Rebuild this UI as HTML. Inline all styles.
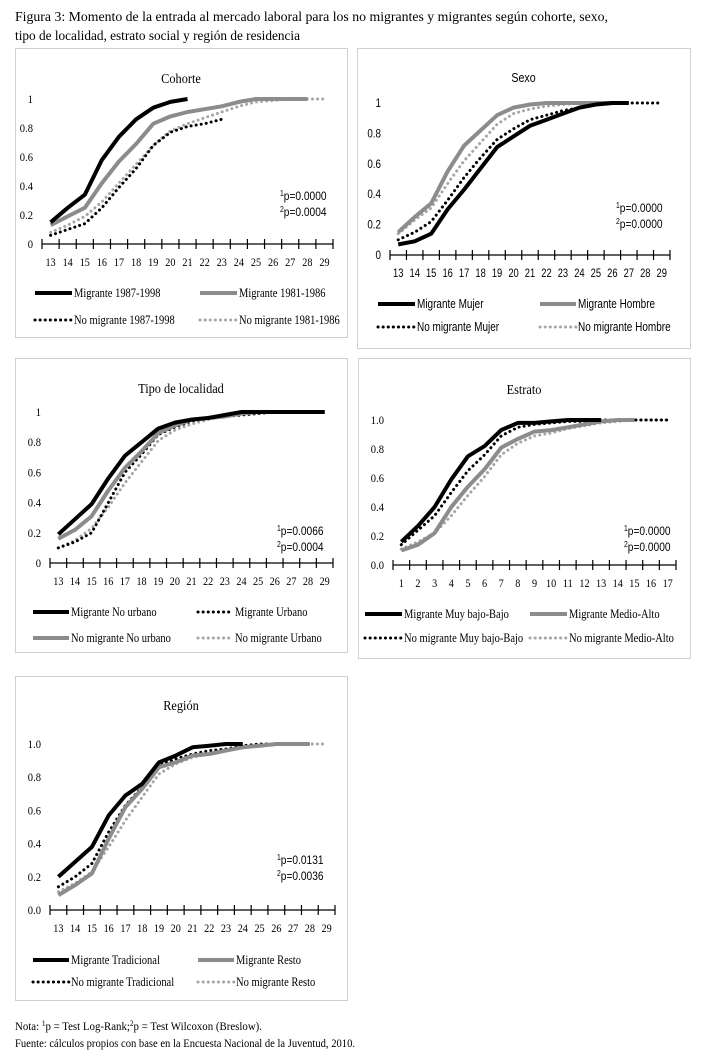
<!DOCTYPE html>
<html><head><meta charset="utf-8"><style>
html,body{margin:0;padding:0;background:#fff;}
svg{display:block;}
.serif{font-family:"Liberation Serif",serif;}
.sans{font-family:"Liberation Sans",sans-serif;}
</style></head><body>
<svg id="fig" width="703" height="1063" viewBox="0 0 703 1063" xmlns="http://www.w3.org/2000/svg">
<text class="serif" x="15" y="21" font-size="14" textLength="593" lengthAdjust="spacingAndGlyphs">Figura 3: Momento de la entrada al mercado laboral para los no migrantes y migrantes según cohorte, sexo,</text>
<text class="serif" x="15" y="40" font-size="14" textLength="285" lengthAdjust="spacingAndGlyphs">tipo de localidad, estrato social y región de residencia</text>
<text class="serif" x="15" y="1030" font-size="12" textLength="247" lengthAdjust="spacingAndGlyphs">Nota: <tspan font-size="8" dy="-4">1</tspan><tspan dy="4">p = Test Log-Rank;</tspan><tspan font-size="8" dy="-4">2</tspan><tspan dy="4">p = Test Wilcoxon (Breslow).</tspan></text>
<text class="serif" x="15" y="1047" font-size="12" textLength="340" lengthAdjust="spacingAndGlyphs">Fuente: cálculos propios con base en la Encuesta Nacional de la Juventud, 2010.</text>
</svg>
<script>
// ---- data ----
const agesCats = ["13","14","15","16","17","18","19","20","21","22","23","24","25","26","27","28","29"];
const estratoCats = ["1","2","3","4","5","6","7","8","9","10","11","12","13","14","15","16","17"];
const yTicks = [0,0.2,0.4,0.6,0.8,1];

const cohM87 = [.15,.25,.34,.58,.74,.86,.94,.98,1.0];
const cohM81 = [.13,.19,.25,.42,.57,.69,.83,.88,.91,.93,.95,.98,1.0,1.0,1.0,1.0];
const cohNM87 = [.06,.10,.14,.25,.39,.52,.68,.77,.81,.83,.86];
const cohNM81 = [.08,.13,.19,.29,.42,.55,.68,.78,.83,.87,.91,.95,.98,.99,1,1,1];

const sexMM = [.07,.09,.14,.30,.43,.57,.71,.78,.85,.89,.93,.97,.99,1.0,1.0];
const sexMH = [.15,.25,.34,.55,.72,.82,.92,.97,.99,1,1,1,1,1,1];
const sexNMM = [.10,.15,.22,.36,.51,.64,.76,.83,.89,.92,.95,.97,.99,1,1,1,1];
const sexNMH = [.14,.23,.31,.47,.62,.74,.86,.93,.96,.98,.99,1,1,1,1];

const locMNU = [.19,.29,.39,.56,.71,.80,.89,.93,.95,.96,.98,1,1,1,1,1,1];
const locMU = [.10,.14,.20,.40,.60,.72,.85,.90,.94,.96,.97,.98,.99,1,1,1,1];
const locNMNU = [.16,.22,.31,.48,.63,.74,.86,.91,.95,.96,.97,.99,1,1,1,1,1];
const locNMU = [.10,.15,.23,.37,.53,.67,.81,.88,.92,.95,.97,.98,.99,1,1,1,1];

const estMB = [.16,.27,.40,.59,.75,.82,.93,.98,.98,.99,1,1,1];
const estMA = [.10,.14,.22,.40,.54,.66,.81,.87,.92,.93,.95,.97,.99,1,1];
const estNMB = [.14,.24,.34,.50,.65,.76,.89,.95,.97,.98,.99,.99,1,1,1,1,1];
const estNMA = [.11,.16,.22,.34,.48,.61,.76,.84,.89,.91,.94,.96,.98,.99,1,1,1];

const regMT = [.20,.29,.38,.57,.69,.76,.89,.93,.98,.99,1.0,1.0];
const regMR = [.09,.15,.22,.43,.62,.73,.86,.89,.93,.94,.96,.98,.99,1,1,1];
const regNMT = [.14,.20,.28,.47,.63,.74,.87,.91,.94,.96,.97,.99,1,1,1,1];
const regNMR = [.11,.16,.23,.38,.54,.68,.82,.88,.92,.94,.96,.98,.99,1,1,1,1];

const NS="http://www.w3.org/2000/svg";
const svg=document.getElementById('fig');
function mk(tag,attrs,parent){const e=document.createElementNS(NS,tag);for(const k in attrs)e.setAttribute(k,attrs[k]);(parent||svg).appendChild(e);return e;}
// text with horizontal compression
function txt(parent,x,y,str,opts){
  const t=mk('text',{x:0,y:0,transform:`translate(${x},${y}) scale(${opts.sx||0.85},1)`,"font-size":opts.fs||12,class:opts.cls||'serif',"text-anchor":opts.anchor||'start'},parent);
  t.textContent=str;
  return t;
}
const STY={
 ms:{stroke:"#000","stroke-width":4,fill:"none","stroke-linejoin":"round"},
 gs:{stroke:"#8c8c8c","stroke-width":4,fill:"none","stroke-linejoin":"round"},
 md:{stroke:"#000","stroke-width":3,fill:"none","stroke-dasharray":"0.1,5","stroke-linecap":"round"},
 gd:{stroke:"#a6a6a6","stroke-width":3,fill:"none","stroke-dasharray":"0.1,5","stroke-linecap":"round"}
};
function chart(c){
  const g=mk('g',{});
  
  
  const box=mk('rect',{x:c.box[0]+0.5,y:c.box[1]+0.5,width:c.box[2]-c.box[0],height:c.box[3]-c.box[1],fill:"#fff",stroke:"#d0d0d0","stroke-width":1},g);
  
  
  const cls=c.sans?'sans':'serif';
  const sx=c.sans?0.82:0.88;
  const t=txt(g,(c.box[0]+c.box[2])/2,c.titleY,c.title,{cls:cls,fs:c.sans?13:14,anchor:'middle',sx:sx});
  
  
  const n=c.cats.length, step=(c.x1-c.x0)/n;
  const X=i=>c.x0+step*(i+0.5);
  const Y=v=>c.y0-(c.y0-c.y1)*v;
  yTicks.forEach(v=>{
    const s=c.fmt?v.toFixed(1):(v===0?"0":v===1?"1":String(v));
    const l=txt(g,c.x0-9,Y(v)+4,s,{cls:cls,fs:12,anchor:'end',sx:sx});
    
    
  });
  const ax=mk('line',{x1:c.x0,x2:c.x1,y1:c.y0,y2:c.y0,stroke:"#000","stroke-width":1.3},g);
  
  
  for(let i=0;i<=n;i++){
    const tk=mk('line',{x1:c.x0+step*i,x2:c.x0+step*i,y1:c.y0-5,y2:c.y0+5,stroke:"#000","stroke-width":1.2},g);
    
    
  }
  c.cats.forEach((s,i)=>{
    const l=txt(g,X(i),c.y0+22,s,{cls:cls,fs:12,anchor:'middle',sx:c.sans?0.78:0.85});
    
    
  });
  c.series.forEach(s=>{
    const d=s.data.map((v,i)=>(i?'L':'M')+X(i).toFixed(1)+','+Y(v).toFixed(1)).join('');
    const p=mk('path',Object.assign({d:d},STY[s.sty]),g);
    
    
  });
  c.pv.forEach((str,k)=>{
    const tt=mk('text',{x:0,y:0,transform:`translate(${c.pvX},${c.pvY+k*16}) scale(0.85,1)`,"font-size":12,class:'sans'},g);
    const sup=mk('tspan',{"font-size":8,dy:-4},tt); sup.textContent=String(k+1);
    const rest=mk('tspan',{dy:4},tt); rest.textContent=str;
    
    
  });
  c.legend.forEach(L=>{
    const s=c.series[L.i];
    const ln=mk('line',Object.assign({x1:L.x,x2:L.x+L.w,y1:L.y-4,y2:L.y-4},STY[s.sty]),g);
    
    
    const tx=txt(g,L.x+L.w+2,L.y,s.label,{cls:cls,fs:12.5,sx:c.sans?0.8:0.84});
    
    
  });
}
chart({name:'cohorte',title:'Cohorte',box:[15,48,347,337],titleY:83,x0:42,x1:333,y0:244,y1:99,cats:agesCats,
 series:[{key:'nm-1981',sty:'gd',data:cohNM81,label:'No migrante 1981-1986'},{key:'nm-1987',sty:'md',data:cohNM87,label:'No migrante 1987-1998'},
 {key:'m-1981',sty:'gs',data:cohM81,label:'Migrante 1981-1986'},{key:'m-1987',sty:'ms',data:cohM87,label:'Migrante 1987-1998'}],
 pv:['p=0.0000','p=0.0004'],pvX:280,pvY:200,
 legend:[{i:3,x:35,w:37,y:297},{i:2,x:200,w:37,y:297},{i:1,x:35,w:37,y:324},{i:0,x:200,w:37,y:324}]});
chart({name:'sexo',sans:true,title:'Sexo',box:[357,48,690,348],titleY:82,x0:390,x1:670,y0:255,y1:103,cats:agesCats,
 series:[{key:'nm-hombre',sty:'gd',data:sexNMH,label:'No migrante Hombre'},{key:'nm-mujer',sty:'md',data:sexNMM,label:'No migrante Mujer'},
 {key:'m-hombre',sty:'gs',data:sexMH,label:'Migrante Hombre'},{key:'m-mujer',sty:'ms',data:sexMM,label:'Migrante Mujer'}],
 pv:['p=0.0000','p=0.0000'],pvX:616,pvY:212,
 legend:[{i:3,x:378,w:37,y:308},{i:2,x:540,w:36,y:308},{i:1,x:378,w:37,y:331},{i:0,x:540,w:36,y:331}]});
chart({name:'tipo-localidad',title:'Tipo de localidad',box:[15,358,347,652],titleY:393,x0:50,x1:333,y0:563,y1:412,cats:agesCats,
 series:[{key:'nm-urbano',sty:'gd',data:locNMU,label:'No migrante Urbano'},{key:'m-urbano',sty:'md',data:locMU,label:'Migrante Urbano'},
 {key:'nm-no-urbano',sty:'gs',data:locNMNU,label:'No migrante No urbano'},{key:'m-no-urbano',sty:'ms',data:locMNU,label:'Migrante No urbano'}],
 pv:['p=0.0066','p=0.0004'],pvX:277,pvY:535,
 legend:[{i:3,x:33,w:36,y:616},{i:1,x:198,w:35,y:616},{i:2,x:33,w:36,y:642},{i:0,x:198,w:35,y:642}]});
chart({name:'estrato',title:'Estrato',box:[358,358,690,658],titleY:394,x0:393,x1:676,y0:565,y1:420,cats:estratoCats,fmt:true,
 series:[{key:'nm-medio-alto',sty:'gd',data:estNMA,label:'No migrante Medio-Alto'},{key:'nm-muy-bajo',sty:'md',data:estNMB,label:'No migrante Muy bajo-Bajo'},
 {key:'m-medio-alto',sty:'gs',data:estMA,label:'Migrante Medio-Alto'},{key:'m-muy-bajo',sty:'ms',data:estMB,label:'Migrante Muy bajo-Bajo'}],
 pv:['p=0.0000','p=0.0000'],pvX:624,pvY:535,
 legend:[{i:3,x:365,w:37,y:618},{i:2,x:530,w:37,y:618},{i:1,x:365,w:37,y:642},{i:0,x:530,w:37,y:642}]});
chart({name:'region',title:'Región',box:[15,676,347,1000],titleY:710,x0:50,x1:335,y0:910,y1:744,cats:agesCats,fmt:true,
 series:[{key:'nm-resto',sty:'gd',data:regNMR,label:'No migrante Resto'},{key:'nm-tradicional',sty:'md',data:regNMT,label:'No migrante Tradicional'},
 {key:'m-resto',sty:'gs',data:regMR,label:'Migrante Resto'},{key:'m-tradicional',sty:'ms',data:regMT,label:'Migrante Tradicional'}],
 pv:['p=0.0131','p=0.0036'],pvX:277,pvY:864,
 legend:[{i:3,x:33,w:36,y:964},{i:2,x:198,w:36,y:964},{i:1,x:33,w:36,y:986},{i:0,x:198,w:36,y:986}]});
</script>
</body></html>
